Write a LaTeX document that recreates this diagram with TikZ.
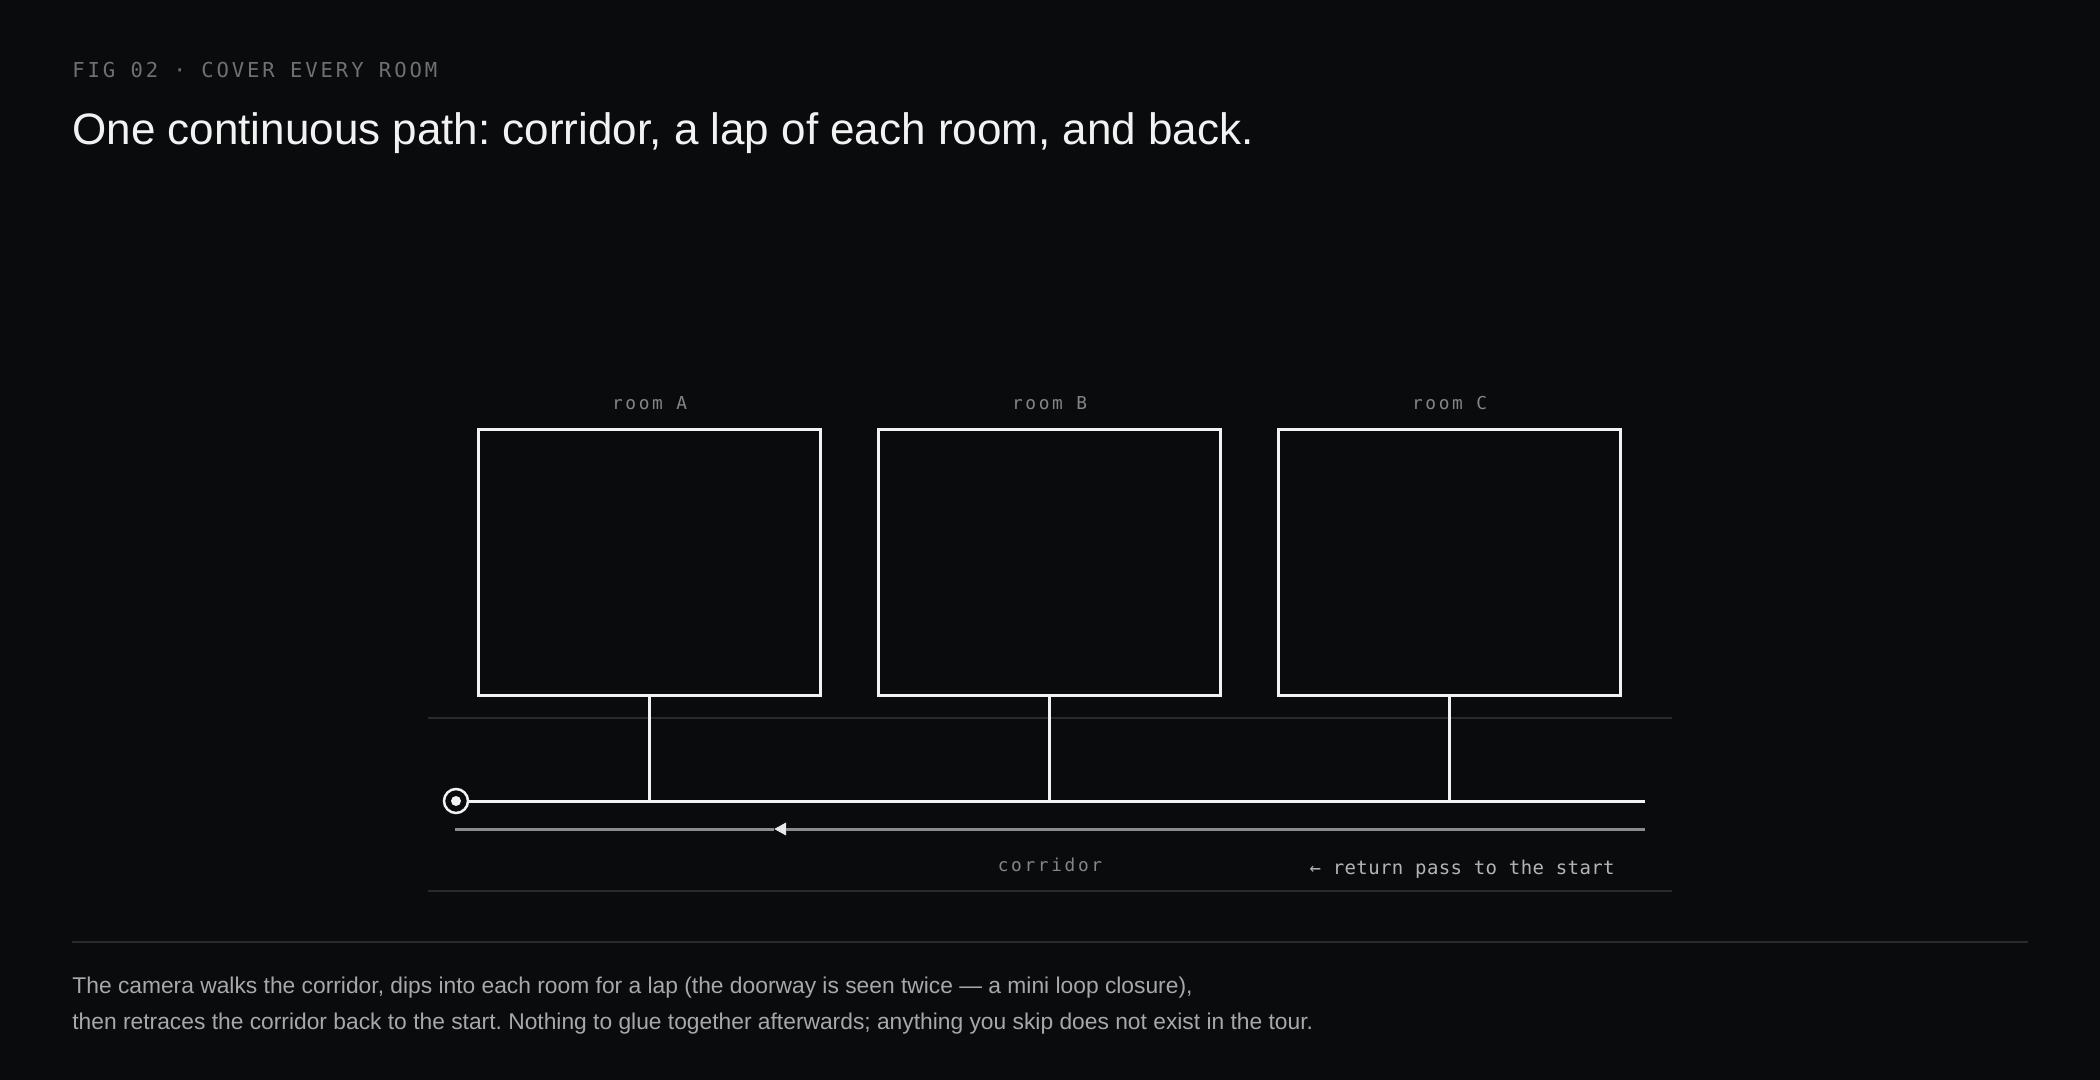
\documentclass[tikz,border=0pt]{standalone}
\usepackage{fontspec}
\setmainfont{Liberation Sans}
\newfontfamily\headmono[LetterSpace=14]{DejaVu Sans Mono}
\newfontfamily\labelmono[LetterSpace=15]{DejaVu Sans Mono}
\newfontfamily\plainmono[LetterSpace=2]{DejaVu Sans Mono}
\usepackage{tikz}
\usetikzlibrary{arrows.meta,positioning}
\usepackage{xcolor}
\definecolor{bgdark}{HTML}{0A0B0D}
\definecolor{wallwhite}{HTML}{F2F2F2}
\definecolor{headgrey}{HTML}{707070}
\definecolor{labelgrey}{HTML}{858585}
\definecolor{capgrey}{HTML}{A8A8A8}
\definecolor{retgrey}{HTML}{8C8C8C}
\definecolor{retlabel}{HTML}{B4B4B4}
\definecolor{rulegrey}{HTML}{2A2A2C}
\tikzstyle{room} = [rectangle, draw=wallwhite, line width=1.5pt, minimum width=171pt, minimum height=133pt, outer sep=0pt, inner sep=0pt]
\tikzstyle{roomlabel} = [inner sep=0pt, anchor=base, text=labelgrey, font=\labelmono\fontsize{8.9}{10}\selectfont]
\tikzstyle{wall} = [line width=1.5pt, draw=wallwhite]
\tikzstyle{retpass} = [line width=1.5pt, draw=retgrey]
\tikzstyle{band} = [line width=1pt, draw=rulegrey]
\tikzstyle{caption} = [anchor=base west, inner sep=0pt, text=capgrey, font=\fontsize{11.4}{18}\selectfont]
\frenchspacing

\begin{document}
\begin{tikzpicture}[x=0.5pt, y=-0.5pt]
\fill[bgdark] (0,0) rectangle (2100,1080);
\useasboundingbox (0,0) rectangle (2100,1080);

% Heading
\node (fig) [anchor=base west, inner sep=0pt, text=headgrey, font=\headmono\fontsize{10.3}{12}\selectfont] at (72,78) {FIG 02 · COVER EVERY ROOM};
\node (title) [anchor=base west, inner sep=0pt, text=wallwhite, font=\fontsize{22}{26}\selectfont] at (72,145) {One continuous path: corridor, a lap of each room, and back.};

% Corridor band
\coordinate (bandTL) at (428,718);
\coordinate (bandTR) at (1672,718);
\coordinate (bandBL) at (428,891);
\coordinate (bandBR) at (1672,891);
\draw[band] (bandTL) -- (bandTR);
\draw[band] (bandBL) -- (bandBR);

% Rooms
\node (roomA) [room] at (649.5,562.5) {};
\node (roomB) [room, right=29pt of roomA] {};
\node (roomC) [room, right=29pt of roomB] {};

\node (labA) [roomlabel] at ([yshift=10pt]roomA.north) {room A};
\node (labB) [roomlabel] at ([yshift=10pt]roomB.north) {room B};
\node (labC) [roomlabel] at ([yshift=10pt]roomC.north) {room C};

% Start marker and corridor
\node (start) [circle, draw=wallwhite, line width=1.25pt, minimum size=12pt, inner sep=0pt] at (456,801) {};
\fill[wallwhite] (start.center) circle (2.5pt);
\coordinate (corrEnd) at (1645,801);
\draw[wall] (start) -- (corrEnd);

\draw[wall] (roomA.south) -- (roomA.south |- start);
\draw[wall] (roomB.south) -- (roomB.south |- start);
\draw[wall] (roomC.south) -- (roomC.south |- start);

% Return pass
\coordinate (retEnd) at (1645,829);
\coordinate (retTip) at (774,829);
\coordinate (retStart) at (455,829);
\draw[retpass] (retTip) -- (retStart);
\draw[retpass, -{Triangle[length=6pt, width=6pt]}, color=wallwhite!90!retgrey] (retEnd) -- (retTip);
\draw[retpass] (retEnd) -- ([xshift=6pt]retTip);

\node (corrLabel) [anchor=base, inner sep=0pt, text=labelgrey, font=\labelmono\fontsize{8.9}{10}\selectfont] at (1050,871) {corridor};
\node (retLabel) [anchor=base east, inner sep=0pt, text=retlabel, font=\plainmono\fontsize{9.5}{11}\selectfont] at (1615,874) {← return pass to the start};

% Caption
\coordinate (ruleL) at (72,942);
\coordinate (ruleR) at (2028,942);
\draw[band] (ruleL) -- (ruleR);
\node (cap1) [caption] at (72,993) {The camera walks the corridor, dips into each room for a lap (the doorway is seen twice — a mini loop closure),};
\node (cap2) [caption] at (72,1029) {then retraces the corridor back to the start. Nothing to glue together afterwards; anything you skip does not exist in the tour.};
\end{tikzpicture}
\end{document}
